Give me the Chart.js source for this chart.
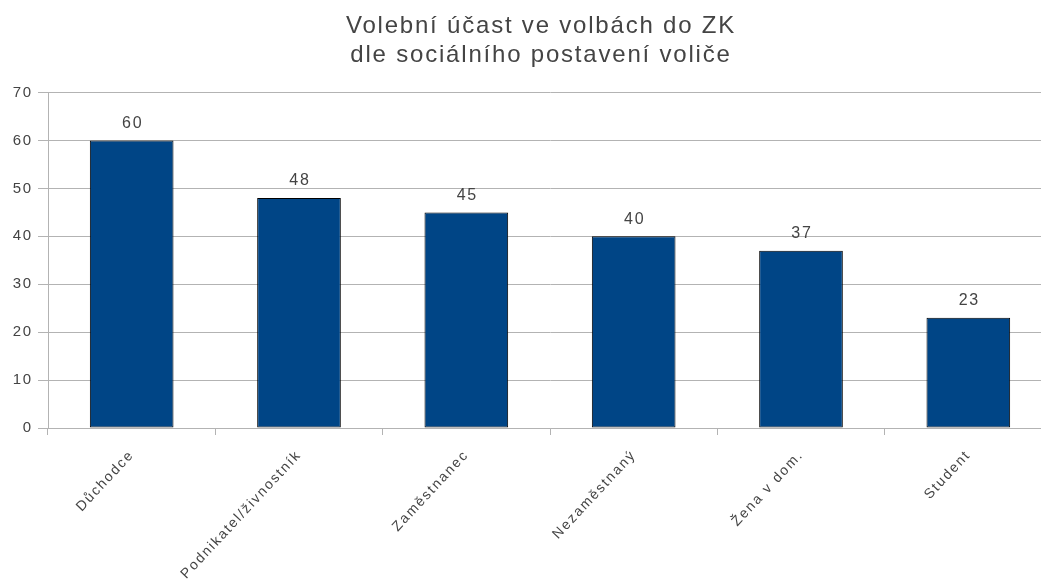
<!DOCTYPE html>
<html>
<head>
<meta charset="utf-8">
<script src="https://cdn.jsdelivr.net/npm/chart.js@4"></script>
<style>
  html, body { margin: 0; padding: 0; overflow: hidden; background: #fff; }
  #wrap { width: 1082px; height: 584px; }
</style>
</head>
<body>
<div id="wrap"><canvas id="chart"></canvas></div>
<script>
const categories = ['Důchodce', 'Podnikatel/živnostník', 'Zaměstnanec', 'Nezaměstnaný', 'Žena v dom.', 'Student'];
const turnout = [60, 48, 45, 40, 37, 23];
const titleLines = ['Volební účast ve volbách do ZK', 'dle sociálního postavení voliče'];

const FONT = '"Liberation Sans", Arial, sans-serif';

// the original text is loosely spaced, so widen all canvas text a bit
const looseText = {
  id: 'looseText',
  beforeInit(chart) { chart.ctx.letterSpacing = '1.8px'; },
  beforeLayout(chart) { chart.ctx.letterSpacing = '1.8px'; },
  beforeDraw(chart) { chart.ctx.letterSpacing = '1.8px'; }
};

// the plot runs past the window edge, the title is centred on the window
const shiftTitle = {
  id: 'shiftTitle',
  afterLayout(chart) {
    if (chart.titleBlock) {
      chart.titleBlock.left += 15;
      chart.titleBlock.right += 15;
    }
  }
};

// value labels above the bars
const valueLabels = {
  id: 'valueLabels',
  afterDatasetsDraw(chart) {
    const ctx = chart.ctx;
    ctx.save();
    ctx.font = '16px ' + FONT;
    ctx.fillStyle = '#444';
    ctx.textAlign = 'center';
    ctx.textBaseline = 'bottom';
    chart.getDatasetMeta(0).data.forEach((bar, i) => {
      ctx.fillText(turnout[i], bar.x + 1, bar.y - 9);
    });
    ctx.restore();
  }
};

const ctx = document.getElementById('chart').getContext('2d');
new Chart(ctx, {
  type: 'bar',
  data: {
    labels: categories,
    datasets: [{
      data: turnout,
      backgroundColor: '#004586',
      borderColor: '#000',
      borderWidth: 1,
      borderSkipped: false,
      barPercentage: 0.5,
      categoryPercentage: 1
    }]
  },
  options: {
    responsive: true,
    maintainAspectRatio: false,
    animation: false,
    layout: { padding: { left: 0, right: 30, top: 0, bottom: 0 } },
    plugins: {
      legend: { display: false },
      tooltip: { enabled: false },
      title: {
        display: true,
        text: titleLines,
        color: '#444',
        font: { family: FONT, size: 24, weight: 'normal', lineHeight: 1.2 },
        padding: { top: 12, bottom: 23 }
      }
    },
    scales: {
      x: {
        offset: true,
        afterFit(s) { s.height = 156; },
        grid: { offset: true, drawOnChartArea: false, drawTicks: true, tickLength: 7, color: '#b3b3b3' },
        border: { color: '#b3b3b3' },
        ticks: {
          color: '#444',
          font: { family: FONT, size: 14 },
          minRotation: 47,
          maxRotation: 47,
          autoSkip: false,
          padding: 12
        }
      },
      y: {
        min: 0,
        max: 70,
        afterFit(s) { s.width = 48; },
        grid: { color: '#b3b3b3', tickLength: 10 },
        border: { color: '#b3b3b3' },
        ticks: {
          stepSize: 10,
          color: '#444',
          padding: 5,
          font: { family: FONT, size: 15 }
        }
      }
    }
  },
  plugins: [looseText, shiftTitle, valueLabels]
});
</script>
</body>
</html>
